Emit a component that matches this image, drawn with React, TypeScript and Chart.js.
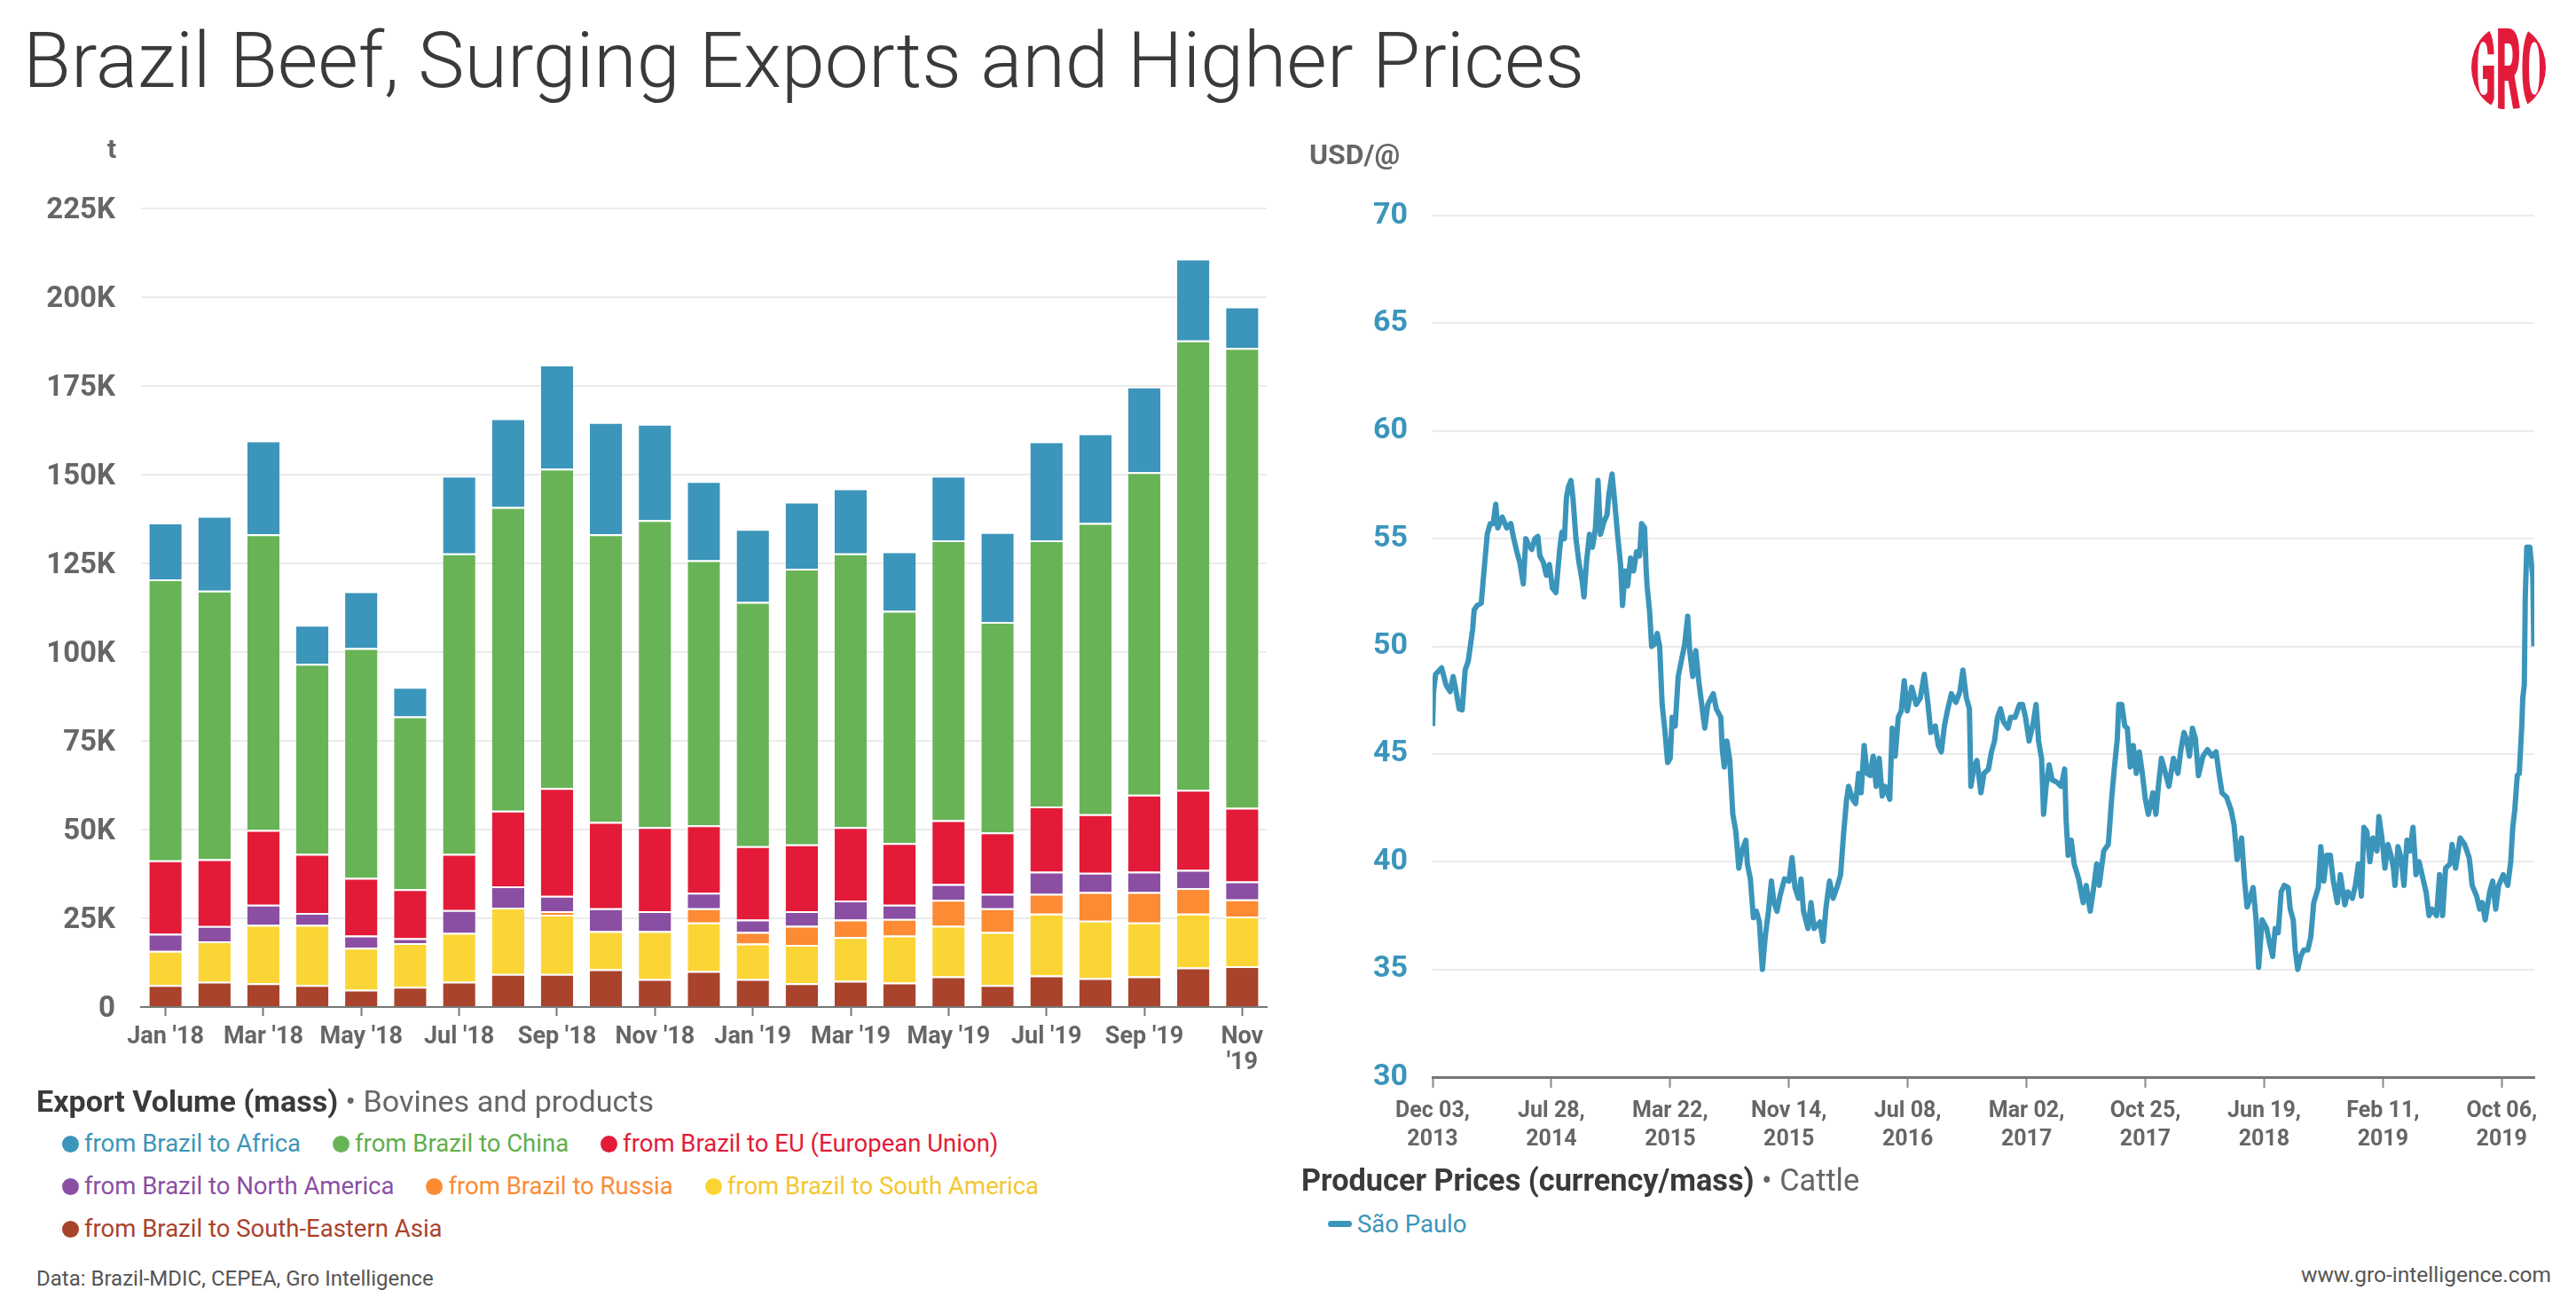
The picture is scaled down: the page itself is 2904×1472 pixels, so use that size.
import React, { useEffect, useRef } from "react";
import { Chart, registerables } from "chart.js";
Chart.register(...registerables);

const FONT = "Roboto, 'Noto Sans', 'DejaVu Sans', sans-serif";

// ---------- Left chart: export volume (thousand tonnes) ----------
const months = [
  "Jan '18", "Feb '18", "Mar '18", "Apr '18", "May '18", "Jun '18", "Jul '18", "Aug '18",
  "Sep '18", "Oct '18", "Nov '18", "Dec '18", "Jan '19", "Feb '19", "Mar '19", "Apr '19",
  "May '19", "Jun '19", "Jul '19", "Aug '19", "Sep '19", "Oct '19", "Nov '19",
];
const yTickValues = [0, 25, 50, 75, 100, 125, 150, 175, 200, 225];

const toSEAsia = [6.2, 7.1, 6.7, 6.2, 4.9, 5.7, 7.1, 9.3, 9.3, 10.6, 7.9, 10.1, 7.9, 6.7, 7.4, 6.9, 8.6, 6.2, 8.9, 8.1, 8.6, 11.1, 11.5];
const toSouthAmerica = [9.6, 11.4, 16.4, 16.9, 11.8, 12.3, 13.8, 18.7, 16.7, 10.8, 13.5, 13.7, 10.0, 10.8, 12.3, 13.2, 14.3, 14.9, 17.4, 16.2, 15.2, 15.2, 14.0];
const toRussia = [0, 0, 0, 0, 0, 0, 0, 0, 1.0, 0, 0, 4.0, 3.2, 5.4, 4.9, 4.7, 7.3, 6.7, 5.6, 8.1, 8.6, 7.2, 4.8];
const toNorthAmerica = [4.8, 4.3, 5.7, 3.4, 3.4, 1.4, 6.4, 6.0, 4.3, 6.4, 5.6, 4.4, 3.5, 4.1, 5.4, 4.0, 4.4, 4.1, 6.2, 5.4, 5.7, 5.1, 5.1];
const toEU = [20.7, 18.8, 21.1, 16.6, 16.3, 13.8, 15.8, 21.3, 30.4, 24.3, 23.7, 19.0, 20.7, 18.8, 20.7, 17.4, 18.0, 17.3, 18.4, 16.5, 21.7, 22.6, 20.7];
const toChina = [79.2, 75.7, 83.3, 53.6, 64.7, 48.7, 84.7, 85.6, 90.0, 81.1, 86.5, 74.7, 68.8, 77.7, 77.1, 65.4, 78.9, 59.3, 75.0, 82.1, 90.9, 126.6, 129.6];
const toAfrica = [16.0, 21.1, 26.4, 11.0, 16.0, 8.3, 21.9, 25.0, 29.3, 31.6, 27.1, 22.3, 20.6, 18.9, 18.3, 16.8, 18.2, 25.3, 27.9, 25.2, 24.1, 23.1, 11.7];

const exportSeries = [
  { name: "from Brazil to South-Eastern Asia", color: "#a9432c", text: "#a9432c", data: toSEAsia },
  { name: "from Brazil to South America", color: "#fbd535", text: "#f4c730", data: toSouthAmerica },
  { name: "from Brazil to Russia", color: "#fd8b33", text: "#fd8b33", data: toRussia },
  { name: "from Brazil to North America", color: "#8a4fa3", text: "#8a4fa3", data: toNorthAmerica },
  { name: "from Brazil to EU (European Union)", color: "#e31b38", text: "#e31b38", data: toEU },
  { name: "from Brazil to China", color: "#69b357", text: "#5fae4c", data: toChina },
  { name: "from Brazil to Africa", color: "#3c95ba", text: "#3c95ba", data: toAfrica },
];
const legendOrder = [6, 5, 4, 3, 2, 1, 0];

// ---------- Right chart: São Paulo cattle producer price (USD/@) ----------
// [days since Dec 03, 2013, price]
const saoPauloPrices: [number, number][] = [
  [0, 46.3], [2, 47.9], [6, 48.7], [18, 49.0], [27, 48.2], [35, 47.9], [41, 48.6], [47, 47.9], [53, 47.1], [59, 47.05],
  [65, 48.9], [71, 49.3], [77, 50.3], [80, 50.8], [83, 51.7], [89, 51.9], [97, 52.0], [100, 52.8], [106, 54.4], [109, 55.2],
  [115, 55.7], [121, 55.7], [126, 56.6], [130, 55.5], [139, 56.0], [148, 55.5], [156, 55.7], [162, 55.0], [168, 54.4], [174, 53.9],
  [181, 52.9], [186, 55.0], [192, 54.7], [198, 54.5], [204, 55.0], [210, 55.1], [214, 54.2], [221, 53.9], [227, 53.3], [233, 53.8],
  [239, 52.7], [246, 52.5], [254, 54.6], [258, 55.3], [263, 55.0], [267, 56.9], [271, 57.4], [276, 57.7], [280, 56.9], [286, 55.0],
  [292, 53.9], [298, 53.1], [302, 52.3], [307, 53.9], [313, 55.2], [319, 54.6], [325, 55.5], [330, 57.7], [335, 55.2], [342, 55.8],
  [348, 56.1], [352, 57.1], [358, 58.0], [363, 56.8], [369, 55.2], [375, 53.8], [379, 51.9], [384, 53.5], [389, 52.8], [395, 54.1],
  [401, 53.5], [407, 54.4], [413, 54.2], [417, 55.7], [423, 55.5], [426, 53.6], [428, 52.8], [433, 51.6], [437, 50.0], [443, 50.1],
  [448, 50.6], [453, 50.0], [458, 47.3], [463, 46.2], [469, 44.6], [474, 44.8], [478, 46.7], [484, 46.3], [490, 48.6], [496, 49.3],
  [503, 50.1], [509, 51.4], [513, 49.8], [519, 48.6], [525, 49.8], [531, 48.4], [537, 47.3], [543, 46.2], [549, 47.3], [560, 47.8],
  [566, 47.1], [575, 46.7], [578, 45.2], [582, 44.4], [587, 45.6], [593, 44.7], [599, 42.2], [605, 41.4], [611, 39.7], [617, 40.5],
  [625, 41.0], [628, 39.9], [634, 39.2], [640, 37.4], [646, 37.7], [652, 37.2], [658, 35.0], [664, 36.6], [670, 37.7], [676, 39.1],
  [681, 38.1], [687, 37.7], [693, 38.4], [702, 39.2], [711, 39.1], [717, 40.2], [723, 38.8], [730, 38.3], [735, 39.2], [740, 37.7],
  [749, 36.9], [755, 38.1], [761, 36.9], [773, 37.2], [779, 36.3], [785, 37.9], [792, 39.1], [799, 38.3], [808, 38.9], [814, 39.4],
  [820, 41.3], [826, 42.9], [830, 43.5], [838, 42.9], [844, 42.7], [850, 44.1], [855, 43.2], [861, 45.4], [867, 44.1], [873, 44.0],
  [879, 44.9], [885, 43.5], [891, 44.8], [897, 43.05], [903, 43.5], [912, 42.9], [917, 46.2], [923, 44.9], [929, 46.7], [935, 47.0],
  [941, 48.4], [947, 47.0], [956, 48.1], [965, 47.3], [973, 47.6], [981, 48.7], [988, 47.4], [994, 46.0], [1003, 46.3], [1009, 45.4],
  [1015, 45.1], [1021, 46.3], [1027, 47.0], [1035, 47.8], [1044, 47.4], [1052, 47.9], [1058, 48.9], [1065, 47.6], [1071, 47.1], [1074, 43.5],
  [1080, 44.4], [1086, 44.7], [1094, 43.2], [1100, 44.1], [1109, 44.3], [1115, 45.1], [1121, 45.6], [1127, 46.7], [1133, 47.1], [1139, 46.5],
  [1148, 46.2], [1153, 46.7], [1162, 46.7], [1171, 47.3], [1177, 47.3], [1183, 46.7], [1190, 45.6], [1198, 46.4], [1204, 47.3], [1209, 45.6],
  [1215, 44.8], [1219, 42.2], [1224, 43.5], [1230, 44.5], [1236, 43.8], [1245, 43.7], [1254, 43.5], [1261, 44.3], [1264, 41.9], [1268, 40.3],
  [1274, 41.0], [1280, 39.9], [1289, 39.2], [1298, 38.1], [1304, 38.9], [1312, 37.7], [1319, 38.8], [1325, 39.9], [1330, 38.9], [1339, 40.5],
  [1348, 40.8], [1351, 41.7], [1355, 43.0], [1360, 44.3], [1366, 45.7], [1369, 47.3], [1375, 47.3], [1381, 46.3], [1386, 46.2], [1392, 44.4],
  [1398, 45.4], [1404, 44.1], [1410, 45.1], [1416, 44.1], [1422, 42.9], [1428, 42.2], [1437, 43.2], [1443, 42.2], [1448, 43.5], [1454, 44.8],
  [1460, 44.3], [1469, 43.5], [1478, 44.8], [1487, 44.1], [1493, 45.2], [1499, 46.0], [1504, 45.7], [1510, 44.9], [1516, 46.2], [1522, 45.7],
  [1528, 44.0], [1537, 44.9], [1546, 45.2], [1555, 44.9], [1563, 45.1], [1569, 44.1], [1575, 43.2], [1584, 43.0], [1593, 42.4], [1599, 41.7],
  [1605, 40.1], [1614, 41.1], [1620, 39.1], [1625, 37.9], [1631, 38.3], [1637, 38.8], [1643, 37.3], [1648, 35.1], [1655, 37.3], [1664, 36.9],
  [1670, 36.2], [1676, 35.6], [1681, 36.9], [1687, 36.7], [1693, 38.6], [1699, 38.9], [1707, 38.8], [1711, 37.8], [1717, 37.3], [1721, 35.9],
  [1726, 35.0], [1732, 35.6], [1738, 35.9], [1746, 35.9], [1752, 36.5], [1758, 38.1], [1767, 38.8], [1772, 40.7], [1778, 39.1], [1784, 40.3],
  [1791, 40.3], [1797, 39.1], [1805, 38.1], [1811, 39.4], [1820, 38.0], [1826, 38.6], [1835, 38.3], [1841, 38.9], [1847, 39.9], [1853, 38.4],
  [1858, 41.6], [1864, 41.4], [1870, 40.0], [1876, 41.1], [1884, 40.5], [1888, 42.1], [1894, 41.1], [1900, 39.7], [1906, 40.8], [1912, 40.3],
  [1917, 39.7], [1920, 38.9], [1926, 40.7], [1932, 40.2], [1938, 38.9], [1944, 41.0], [1950, 40.5], [1956, 41.6], [1962, 39.4], [1968, 40.0],
  [1974, 39.4], [1982, 38.6], [1988, 37.5], [1994, 37.8], [2003, 37.5], [2009, 39.4], [2015, 37.5], [2021, 39.7], [2030, 39.9], [2034, 40.8],
  [2041, 39.7], [2050, 41.1], [2059, 40.8], [2068, 40.2], [2071, 39.6], [2074, 38.9], [2083, 38.4], [2089, 37.8], [2094, 38.1], [2100, 37.3],
  [2109, 38.6], [2115, 39.1], [2121, 37.8], [2127, 38.9], [2136, 39.4], [2145, 38.9], [2151, 40.0], [2155, 41.6], [2159, 42.4], [2164, 44.0],
  [2168, 44.1], [2173, 46.3], [2175, 47.6], [2178, 48.2], [2180, 52.3], [2183, 54.6], [2189, 54.6], [2195, 53.2], [2197, 50.0],
];
const priceTickDays = [0, 237, 474, 711, 948, 1185, 1422, 1659, 1896, 2133];
const priceTickLabels = [
  "Dec 03, 2013", "Jul 28, 2014", "Mar 22, 2015", "Nov 14, 2015", "Jul 08, 2016",
  "Mar 02, 2017", "Oct 25, 2017", "Jun 19, 2018", "Feb 11, 2019", "Oct 06, 2019",
];
const priceYTicks = [30, 35, 40, 45, 50, 55, 60, 65, 70];

const BLUE = "#3b95bb";
const GRID = "#ebebeb";

function ExportChart() {
  const ref = useRef<HTMLCanvasElement | null>(null);
  useEffect(() => {
    const chart = new Chart(ref.current as HTMLCanvasElement, {
      type: "bar",
      data: {
        labels: months,
        datasets: exportSeries.map((s) => ({
          label: s.name,
          data: s.data,
          backgroundColor: s.color,
          borderColor: "#ffffff",
          borderWidth: { top: 2, right: 0, bottom: 0, left: 0 },
          borderSkipped: false,
          stack: "all",
          barPercentage: 0.66,
          categoryPercentage: 1,
        })),
      },
      options: {
        animation: false,
        responsive: false,
        devicePixelRatio: 1,
        layout: { padding: { left: 0, right: 12, top: 85, bottom: 0 } },
        plugins: { legend: { display: false }, tooltip: { enabled: false } },
        scales: {
          x: {
            stacked: true,
            grid: {
              display: true,
              drawOnChartArea: false,
              drawTicks: true,
              offset: false,
              tickLength: 10,
              tickWidth: 2,
              tickColor: (ctx: any) => (ctx.index % 2 === 0 ? "#777" : "rgba(0,0,0,0)"),
            },
            border: { display: true, color: "#777", width: 2 },
            ticks: {
              autoSkip: false,
              maxRotation: 0,
              minRotation: 0,
              padding: 9,
              color: "#666",
              font: { family: FONT, size: 27, weight: "bold", lineHeight: 1.1 },
              callback: (_v: any, i: number) => {
                if (i % 2 !== 0) return "";
                const l = months[i];
                if (i === months.length - 1) return l.split(" ");
                return l;
              },
            },
            afterFit: (s: any) => {
              s.height = 105;
            },
          },
          y: {
            stacked: true,
            min: 0,
            max: 225,
            afterBuildTicks: (s: any) => {
              s.ticks = yTickValues.map((v) => ({ value: v }));
            },
            ticks: {
              padding: 29,
              labelOffset: 3,
              color: "#666",
              font: { family: FONT, size: 33, weight: "bold" },
              callback: (v: any) => (v === 0 ? "0" : v + "K"),
            },
            grid: {
              drawTicks: false,
              lineWidth: 2,
              color: (ctx: any) => (ctx.tick && ctx.tick.value === 0 ? "rgba(0,0,0,0)" : GRID),
            },
            border: { display: false },
            afterFit: (s: any) => {
              s.width = 159;
            },
          },
        },
      } as any,
    });
    return () => chart.destroy();
  }, []);
  return (
    <canvas
      ref={ref}
      width={1440}
      height={1090}
      style={{ position: "absolute", left: 0, top: 150, width: 1440, height: 1090 }}
    />
  );
}

function PriceChart() {
  const ref = useRef<HTMLCanvasElement | null>(null);
  useEffect(() => {
    const chart = new Chart(ref.current as HTMLCanvasElement, {
      type: "line",
      data: {
        datasets: [
          {
            label: "São Paulo",
            data: saoPauloPrices.map(([d, v]) => ({ x: d, y: v })),
            borderColor: BLUE,
            backgroundColor: BLUE,
            borderWidth: 6,
            pointRadius: 0,
            tension: 0,
            borderJoinStyle: "round",
            borderCapStyle: "butt",
          },
        ],
      },
      options: {
        animation: false,
        responsive: false,
        devicePixelRatio: 1,
        layout: { padding: { left: 0, right: 47, top: 93, bottom: 0 } },
        plugins: { legend: { display: false }, tooltip: { enabled: false } },
        scales: {
          x: {
            type: "linear",
            min: 0,
            max: 2198,
            afterBuildTicks: (s: any) => {
              s.ticks = priceTickDays.map((v) => ({ value: v }));
            },
            grid: {
              display: true,
              drawOnChartArea: false,
              drawTicks: true,
              tickLength: 12,
              tickWidth: 2,
              tickColor: "#888",
            },
            border: { display: true, color: "#777", width: 3 },
            ticks: {
              autoSkip: false,
              maxRotation: 0,
              minRotation: 0,
              padding: 11,
              color: "#666",
              font: { family: FONT, size: 25, weight: "bold", lineHeight: 1.28 },
              callback: (_v: any, i: number) => {
                const parts = priceTickLabels[i].split(", ");
                return [parts[0] + ",", parts[1]];
              },
            },
            afterFit: (s: any) => {
              s.height = 100;
            },
          },
          y: {
            min: 30,
            max: 70,
            afterBuildTicks: (s: any) => {
              s.ticks = priceYTicks.map((v) => ({ value: v }));
            },
            ticks: {
              padding: 28,
              color: BLUE,
              font: { family: FONT, size: 34, weight: "bold" },
            },
            grid: {
              drawTicks: false,
              lineWidth: 2,
              color: (ctx: any) => (ctx.tick && ctx.tick.value === 30 ? "rgba(0,0,0,0)" : GRID),
            },
            border: { display: false },
            afterFit: (s: any) => {
              s.width = 175;
            },
          },
        },
      } as any,
    });
    return () => chart.destroy();
  }, []);
  return (
    <canvas
      ref={ref}
      width={1464}
      height={1164}
      style={{ position: "absolute", left: 1440, top: 150, width: 1464, height: 1164 }}
    />
  );
}

function Logo() {
  return (
    <svg
      width={90}
      height={100}
      viewBox="0 0 90 100"
      style={{ position: "absolute", left: 2783, top: 26 }}
    >
      <defs>
        <clipPath id="groclip">
          <ellipse cx={45} cy={50} rx={42} ry={48} />
        </clipPath>
      </defs>
      <g clipPath="url(#groclip)">
        <text
          x={1}
          y={97}
          fill="#e31b3b"
          fontFamily={FONT}
          fontWeight={900}
          fontSize={128}
          textLength={88}
          lengthAdjust="spacingAndGlyphs"
        >
          GRO
        </text>
      </g>
    </svg>
  );
}

const abs = (left: number, top: number, extra: React.CSSProperties = {}): React.CSSProperties => ({
  position: "absolute",
  left,
  top,
  lineHeight: 1,
  whiteSpace: "nowrap",
  ...extra,
});

export default function App() {
  return (
    <div
      style={{
        position: "absolute",
        left: 0,
        top: 0,
        width: 2904,
        height: 1472,
        background: "#ffffff",
        overflow: "hidden",
        fontFamily: FONT,
      }}
    >
      <div style={abs(26, 24, { fontSize: 88, fontWeight: 300, color: "#3a3a3a" })}>
        Brazil Beef, Surging Exports and Higher Prices
      </div>
      <Logo />

      <ExportChart />
      <PriceChart />

      <div style={abs(121, 153, { fontSize: 30, fontWeight: 700, color: "#666" })}>t</div>
      <div style={abs(1476, 158, { fontSize: 32, fontWeight: 700, color: "#666" })}>USD/@</div>

      {/* Left legend */}
      <div style={abs(41, 1224, { fontSize: 34.1 })}>
        <span style={{ fontWeight: 700, color: "#3a3a3a" }}>Export Volume (mass)</span>
        <span style={{ color: "#666" }}> • Bovines and products</span>
      </div>
      <div
        style={{
          position: "absolute",
          left: 70,
          top: 1273,
          width: 1200,
          display: "flex",
          flexWrap: "wrap",
          columnGap: 36,
          rowGap: 16,
          fontSize: 27.5,
          lineHeight: "32px",
        }}
      >
        {legendOrder.map((idx) => {
          const s = exportSeries[idx];
          return (
            <div key={s.name} style={{ display: "flex", alignItems: "center", color: s.text, whiteSpace: "nowrap" }}>
              <span
                style={{
                  display: "inline-block",
                  width: 19,
                  height: 19,
                  borderRadius: "50%",
                  background: s.color,
                  marginRight: 6,
                }}
              />
              {s.name}
            </div>
          );
        })}
      </div>

      {/* Right legend */}
      <div style={abs(1467, 1313, { fontSize: 34.3 })}>
        <span style={{ fontWeight: 700, color: "#3a3a3a" }}>Producer Prices (currency/mass)</span>
        <span style={{ color: "#666" }}> • Cattle</span>
      </div>
      <div style={abs(1497, 1366, { fontSize: 27.5, color: BLUE, display: "flex", alignItems: "center" })}>
        <span
          style={{
            display: "inline-block",
            width: 27,
            height: 7,
            borderRadius: 4,
            background: BLUE,
            marginRight: 6,
          }}
        />
        São Paulo
      </div>

      {/* Footers */}
      <div style={abs(41, 1429, { fontSize: 24, color: "#555" })}>
        Data: Brazil-MDIC, CEPEA, Gro Intelligence
      </div>
      <div style={{ ...abs(0, 1425, { fontSize: 24.5, color: "#555" }), left: undefined, right: 28 }}>
        www.gro-intelligence.com
      </div>
    </div>
  );
}
